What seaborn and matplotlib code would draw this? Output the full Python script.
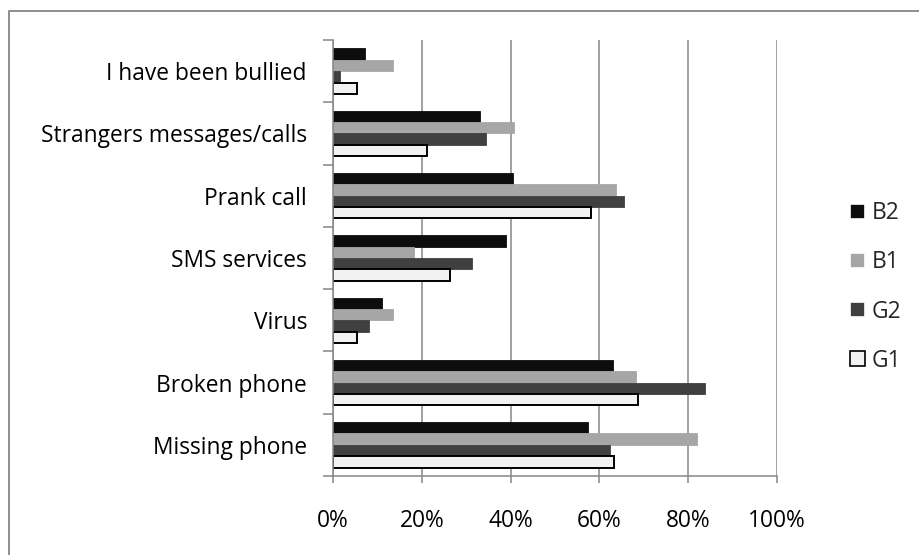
import matplotlib
matplotlib.use("Agg")
import matplotlib.pyplot as plt
import seaborn as sns
import pandas as pd
from matplotlib.lines import Line2D
from matplotlib.ticker import PercentFormatter, FixedLocator

# ── Data ──────────────────────────────────────────────────────────────────────
categories = [
    "I have been bullied",
    "Strangers messages/calls",
    "Prank call",
    "SMS services",
    "Virus",
    "Broken phone",
    "Missing phone",
]
groups = ["B2", "B1", "G2", "G1"]

b2 = [0.071, 0.331, 0.405, 0.390, 0.111, 0.630, 0.575]
b1 = [0.136, 0.407, 0.637, 0.182, 0.136, 0.682, 0.819]
g2 = [0.016, 0.345, 0.655, 0.312, 0.082, 0.837, 0.624]
g1 = [0.053, 0.211, 0.580, 0.264, 0.053, 0.686, 0.633]

colors = {"B2": "#0d0d0d", "B1": "#a6a6a6", "G2": "#404040", "G1": "#f2f2f2"}
GRID = "#868686"
FS = 16.4
PX = 0.72  # points per pixel at dpi 100

# long form table for seaborn
series = {"B2": b2, "B1": b1, "G2": g2, "G1": g1}
rows = []
for g in groups:
    for cat, v in zip(categories, series[g]):
        rows.append({"category": cat, "group": g, "value": v})
df = pd.DataFrame(rows)

# ── Figure ────────────────────────────────────────────────────────────────────
sns.set_style("white")
plt.rcParams["font.family"] = ["Open Sans", "DejaVu Sans"]

W, H = 920, 555
fig = plt.figure(figsize=(W / 100, H / 100), dpi=100)
ax = fig.add_axes([333 / W, 1 - 476 / H, 444 / W, 436 / H])

sns.barplot(
    data=df, y="category", x="value", hue="group",
    order=categories, hue_order=groups, palette=colors,
    orient="h", width=0.73, ax=ax, legend=True,
)

for g, cont in zip(groups, ax.containers):
    for bar in cont:
        if g == "G1":
            bar.set_edgecolor("#000000")
            bar.set_linewidth(1.4)
        else:
            bar.set_edgecolor(colors[g])
            bar.set_linewidth(0.6)

ax.set_xlim(0, 1)
ax.set_ylim(len(categories) - 0.5, -0.5)
ax.xaxis.set_major_locator(FixedLocator([0, 0.2, 0.4, 0.6, 0.8, 1.0]))
ax.xaxis.set_major_formatter(PercentFormatter(1.0, decimals=0))
ax.set_xlabel("")
ax.set_ylabel("")

# vertical gridlines
ax.grid(axis="x", color=GRID, linewidth=1.1)
ax.set_axisbelow(True)

for side in ["top", "right"]:
    ax.spines[side].set_visible(False)
for side in ["left", "bottom"]:
    ax.spines[side].set_color(GRID)
    ax.spines[side].set_linewidth(1.1)

# category boundary ticks on the y axis
ax.yaxis.set_minor_locator(FixedLocator([i - 0.5 for i in range(len(categories) + 1)]))
ax.tick_params(axis="y", which="major", length=0, pad=26 * PX, labelsize=FS, labelcolor="#000000")
ax.tick_params(axis="y", which="minor", length=10 * PX, width=1.1, color=GRID, left=True)
ax.tick_params(axis="x", which="major", length=7 * PX, width=1.1, color=GRID,
               bottom=True, pad=26 * PX, labelsize=FS, labelcolor="#000000")

# legend
handles, labels = ax.get_legend_handles_labels()
ax.get_legend().remove()
for h in handles:
    h.set_linewidth(1.2)
handles[3].set_edgecolor("#000000")
fig.legend(
    handles, labels, loc="center left",
    bbox_to_anchor=(850 / W, 1 - 287 / H),
    frameon=False, fontsize=FS, borderpad=0, borderaxespad=0,
    handlelength=0.66, handleheight=0.64, handletextpad=0.3,
    labelspacing=1.1,
)

# chart area border (top and left edges visible)
fig.add_artist(Line2D([8.5 / W, 8.5 / W, 1.0], [0.0, 1 - 10.5 / H, 1 - 10.5 / H],
                      transform=fig.transFigure, color=GRID, linewidth=1.3))

fig.savefig("out.png", dpi=100)
